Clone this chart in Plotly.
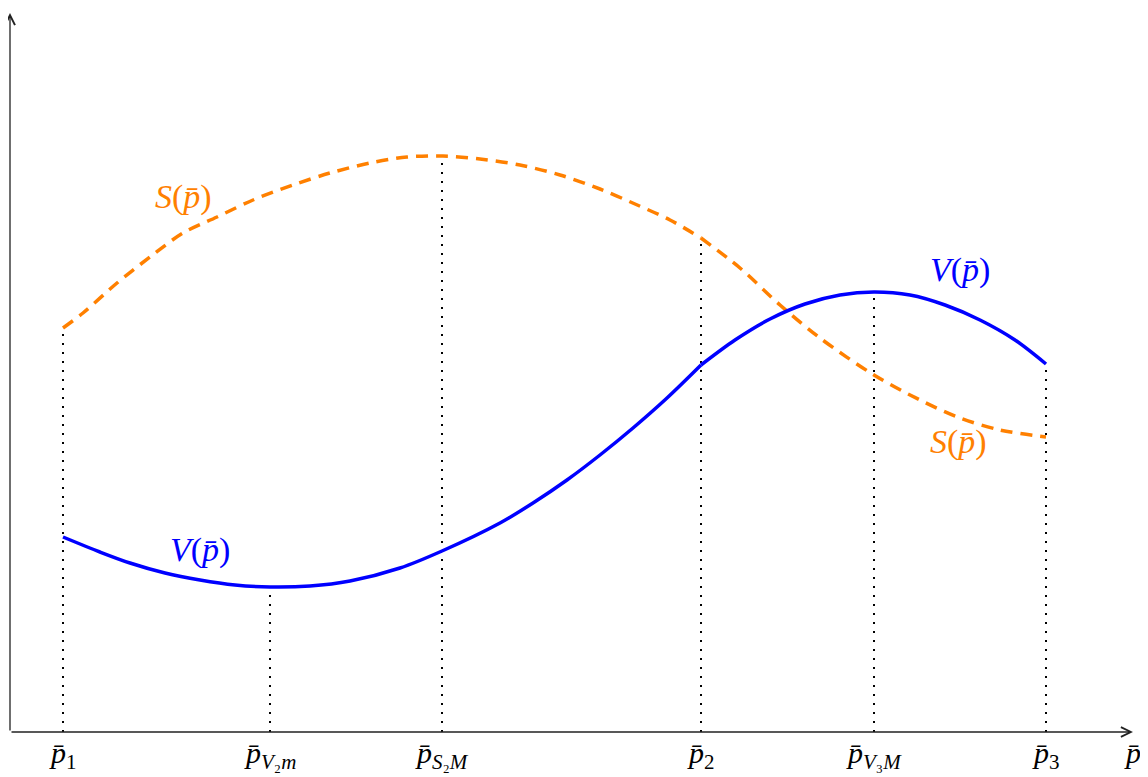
import plotly.graph_objects as go

# Tick positions (abstract units) and labels
tick_x = [0.53, 2.60, 4.32, 6.91, 8.64, 10.36]
tick_labels = [
    "<i>p̄</i><sub>1</sub>",
    "<i>p̄</i><sub><i>V</i>₂<i>m</i></sub>",
    "<i>p̄</i><sub><i>S</i>₂<i>M</i></sub>",
    "<i>p̄</i><sub>2</sub>",
    "<i>p̄</i><sub><i>V</i>₃<i>M</i></sub>",
    "<i>p̄</i><sub>3</sub>",
]
axis_label = "<i>p̄</i>"

# V curve (two pieces joined at p2)
v_x = [0.53, 0.90, 1.20, 1.55, 1.90, 2.25, 2.60, 3.00, 3.40, 3.90, 4.32, 4.90, 5.23, 5.57,
       5.90, 6.23, 6.57, 6.91,
       7.25, 7.60, 7.95, 8.30, 8.64, 9.00, 9.35, 9.70, 10.05, 10.36]
v_y = [1.95, 1.80, 1.69, 1.59, 1.52, 1.47, 1.45, 1.46, 1.51, 1.64, 1.81, 2.09, 2.29, 2.52,
       2.77, 3.04, 3.34, 3.67,
       3.92, 4.13, 4.28, 4.37, 4.40, 4.37, 4.27, 4.12, 3.92, 3.68]
v_break = 17  # index of p2

# S curve (two pieces joined at p2)
s_x = [0.53, 0.73, 1.07, 1.40, 1.73, 2.07, 2.43, 2.83, 3.20, 3.60, 3.97, 4.33,
       4.70, 5.10, 5.50, 5.90, 6.25, 6.60, 6.91,
       7.30, 7.70, 8.10, 8.64, 9.10, 9.50, 9.90, 10.36]
s_y = [4.04, 4.19, 4.49, 4.75, 4.99, 5.15, 5.32, 5.47, 5.59, 5.69, 5.75, 5.76,
       5.73, 5.67, 5.57, 5.43, 5.28, 5.12, 4.94,
       4.64, 4.27, 3.94, 3.57, 3.32, 3.14, 3.02, 2.95]
s_break = 18  # index of p2

# Heights of dotted guide lines at each tick
guide_y = [4.04, 1.45, 5.76, 4.94, 4.40, 3.68]

BLUE = "#0000ff"
ORANGE = "#ff8000"
FONT = "Liberation Serif"

fig = go.Figure()

for gx, gy in zip(tick_x, guide_y):
    fig.add_trace(go.Scatter(x=[gx, gx], y=[0, gy], mode="lines",
                             line=dict(color="black", width=2, dash="2px,7px"),
                             hoverinfo="skip", showlegend=False))

for sl in (slice(0, s_break + 1), slice(s_break, None)):
    fig.add_trace(go.Scatter(x=s_x[sl], y=s_y[sl], mode="lines",
                             line=dict(color=ORANGE, width=3.5, dash="12px,8px",
                                       shape="spline", smoothing=0.9),
                             showlegend=False))
for sl in (slice(0, v_break + 1), slice(v_break, None)):
    fig.add_trace(go.Scatter(x=v_x[sl], y=v_y[sl], mode="lines",
                             line=dict(color=BLUE, width=3.5, shape="spline", smoothing=0.9),
                             showlegend=False))

annotations = []
# axes arrows
annotations.append(dict(x=11.23, y=0, ax=0, ay=0, xref="x", yref="y", axref="x", ayref="y",
                        showarrow=True, arrowhead=5, arrowsize=1.5, arrowwidth=1.3,
                        arrowcolor="#222", text=""))
annotations.append(dict(x=0, y=7.19, ax=0, ay=0, xref="x", yref="y", axref="x", ayref="y",
                        showarrow=True, arrowhead=5, arrowsize=1.5, arrowwidth=1.3,
                        arrowcolor="#222", text=""))

for tx, tl in zip(tick_x, tick_labels):
    annotations.append(dict(x=tx, y=-0.003, xref="x", yref="paper", text=tl, showarrow=False,
                            xanchor="center", yanchor="top",
                            font=dict(family=FONT, size=30, color="black")))

annotations.append(dict(x=11.22, y=-0.003, xref="x", yref="paper", text=axis_label,
                        showarrow=False, xanchor="center", yanchor="top",
                        font=dict(family=FONT, size=30, color="black")))

annotations.append(dict(x=1.73, y=5.35, text="<i>S</i>(<i>p̄</i>)", showarrow=False,
                        font=dict(family=FONT, size=34, color=ORANGE)))
annotations.append(dict(x=9.48, y=2.90, text="<i>S</i>(<i>p̄</i>)", showarrow=False,
                        font=dict(family=FONT, size=34, color=ORANGE)))
annotations.append(dict(x=1.90, y=1.82, text="<i>V</i>(<i>p̄</i>)", showarrow=False,
                        font=dict(family=FONT, size=34, color=BLUE)))
annotations.append(dict(x=9.50, y=4.62, text="<i>V</i>(<i>p̄</i>)", showarrow=False,
                        font=dict(family=FONT, size=34, color=BLUE)))

fig.update_layout(
    width=1148, height=777,
    margin=dict(l=2, r=18, t=2, b=53),
    plot_bgcolor="white", paper_bgcolor="white",
    xaxis=dict(range=[0, 11.28], visible=False, fixedrange=True),
    yaxis=dict(range=[0, 7.22], visible=False, fixedrange=True),
    annotations=annotations,
    showlegend=False,
)

fig.write_html("out.html")
